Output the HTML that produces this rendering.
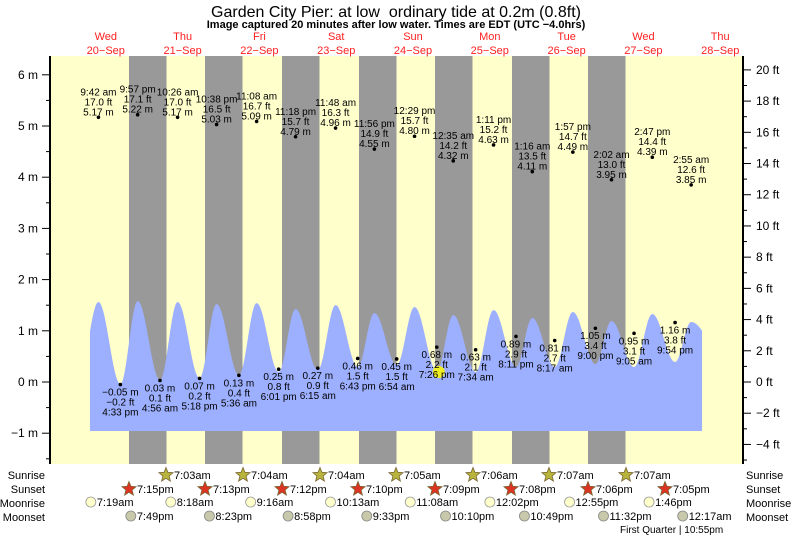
<!DOCTYPE html>
<html><head><meta charset="utf-8"><style>
html,body{margin:0;padding:0;background:#fff;}
svg{display:block;font-family:"Liberation Sans",Arial,sans-serif;}
</style></head><body>
<svg id="s" width="793" height="538" viewBox="0 0 793 538" xmlns="http://www.w3.org/2000/svg">
<rect x="0" y="0" width="793" height="538" fill="#fff"/>
<text x="396" y="17" font-size="16" text-anchor="middle" fill="#000">Garden City Pier: at low &#160;ordinary tide at 0.2m (0.8ft)</text>
<text x="396" y="28" font-size="11" font-weight="bold" text-anchor="middle" fill="#000">Image captured 20 minutes after low water. Times are EDT (UTC −4.0hrs)</text>
<g id="g"></g>
</svg>
<script>
var NS="http://www.w3.org/2000/svg",g=document.getElementById('g');
function el(n,a,t){var e=document.createElementNS(NS,n);for(var k in a)e.setAttribute(k,a[k]);if(t!=null)e.textContent=t;g.appendChild(e);return e;}
function X(t){return 67.4+3.2*t;}
function Y(m){return 382-51.2*m;}
el('rect',{x:50,y:56,width:693,height:408,fill:'#ffffcc'});
[129,205,282,359,435,512,588].forEach(function(x){el('rect',{x:x,y:56,width:37.5,height:408,fill:'#999999'});});
var days=[['Wed','20\u2212Sep'],['Thu','21\u2212Sep'],['Fri','22\u2212Sep'],['Sat','23\u2212Sep'],['Sun','24\u2212Sep'],['Mon','25\u2212Sep'],['Tue','26\u2212Sep'],['Wed','27\u2212Sep'],['Thu','28\u2212Sep']];
days.forEach(function(d,i){var x=105.8+76.8*i;el('text',{x:x,y:40,'font-size':11,fill:'#ff2020','text-anchor':'middle'},d[0]);el('text',{x:x,y:54,'font-size':11,fill:'#ff2020','text-anchor':'middle'},d[1]);});
var ext=[[3.5,378],[9.7,302],[16.55,384],[21.95,301],[28.93,380],[34.43,302],[41.3,378],[46.63,304],[53.6,375],[59.13,303],[66.02,372],[71.3,309],[78.25,370],[83.8,305],[90.72,367],[95.93,313],[102.9,365],[108.48,307],[115.43,371],[120.58,315],[127.57,372],[133.18,310],[140.18,367],[145.27,318],[152.28,367],[157.95,312],[165,364],[170.03,321],[177.08,367],[182.78,314],[189.9,362],[194.92,322],[207,370]];
function cy(t){for(var i=0;i<ext.length-1;i++){var a=ext[i],b=ext[i+1];if(t>=a[0]&&t<=b[0]){var f=(t-a[0])/(b[0]-a[0]);return a[1]+(b[1]-a[1])*(1-Math.cos(Math.PI*f))/2;}}return 350;}
var d='M90,431';for(var x=90;x<=702;x+=1){d+=' L'+x+','+cy((x-67.4)/3.2).toFixed(1);}d+=' L702,431 Z';
el('path',{d:d,fill:'#9dafff'});
el('line',{x1:50,y1:56,x2:50,y2:464,stroke:'#000','stroke-width':2});
el('line',{x1:743,y1:56,x2:743,y2:464,stroke:'#000','stroke-width':2});
for(var m=-1.5;m<=6.3;m+=0.5){var y=Y(m),maj=Math.abs(m-Math.round(m))<0.01;el('line',{x1:maj?42:46,y1:y,x2:50,y2:y,stroke:'#000'});
 if(maj){var r=Math.round(m);el('text',{x:38,y:y+4,'font-size':12,'text-anchor':'end',fill:'#000'},(r<0?'\u2212'+(-r):r)+' m');}}
for(var f=-5;f<=20;f++){var y=382-f*0.3048*51.2;if(y<56||y>464)continue;var maj=f%2==0;el('line',{x1:743,y1:y,x2:maj?751:747,y2:y,stroke:'#000'});
 if(maj)el('text',{x:756,y:y+4,'font-size':12,fill:'#000'},(f<0?'\u2212'+(-f):f)+' ft');}
var hi=[[9.7,'9:42 am','17.0',5.17],[21.95,'9:57 pm','17.1',5.22],[34.43,'10:26 am','17.0',5.17],[46.63,'10:38 pm','16.5',5.03],[59.13,'11:08 am','16.7',5.09],[71.3,'11:18 pm','15.7',4.79],[83.8,'11:48 am','16.3',4.96],[95.93,'11:56 pm','14.9',4.55],[108.48,'12:29 pm','15.7',4.80],[120.58,'12:35 am','14.2',4.32],[133.18,'1:11 pm','15.2',4.63],[145.27,'1:16 am','13.5',4.11],[157.95,'1:57 pm','14.7',4.49],[170.03,'2:02 am','13.0',3.95],[182.78,'2:47 pm','14.4',4.39],[194.92,'2:55 am','12.6',3.85]];
hi.forEach(function(h){var x=X(h[0]),y=Y(h[3]);el('circle',{cx:x,cy:y,r:1.8,fill:'#000'});
 el('text',{x:x,y:y-22,'font-size':10,'text-anchor':'middle',fill:'#000'},h[1]);
 el('text',{x:x,y:y-12,'font-size':10,'text-anchor':'middle',fill:'#000'},h[2]+' ft');
 el('text',{x:x,y:y-2,'font-size':10,'text-anchor':'middle',fill:'#000'},h[3].toFixed(2)+' m');});
var lo=[[16.55,'4:33 pm','\u22120.2',-0.05],[28.93,'4:56 am','0.1',0.03],[41.3,'5:18 pm','0.2',0.07],[53.6,'5:36 am','0.4',0.13],[66.02,'6:01 pm','0.8',0.25],[78.25,'6:15 am','0.9',0.27],[90.72,'6:43 pm','1.5',0.46],[102.9,'6:54 am','1.5',0.45],[115.43,'7:26 pm','2.2',0.68],[127.57,'7:34 am','2.1',0.63],[140.18,'8:11 pm','2.9',0.89],[152.28,'8:17 am','2.7',0.81],[165,'9:00 pm','3.4',1.05],[177.08,'9:05 am','3.1',0.95],[189.9,'9:54 pm','3.8',1.16]];
el('circle',{cx:X(115.43)+2,cy:372,r:6,fill:'#eeee22'});
lo.forEach(function(h){var x=X(h[0]),y=Y(h[3]);el('circle',{cx:x,cy:y,r:1.8,fill:'#000'});
 var mm=(h[3]<0?'\u2212'+(-h[3]).toFixed(2):h[3].toFixed(2))+' m';
 el('text',{x:x,y:y+11,'font-size':10,'text-anchor':'middle',fill:'#000'},mm);
 el('text',{x:x,y:y+21,'font-size':10,'text-anchor':'middle',fill:'#000'},h[2]+' ft');
 el('text',{x:x,y:y+31,'font-size':10,'text-anchor':'middle',fill:'#000'},h[1]);});
var rows=[['Sunrise',479],['Sunset',493],['Moonrise',507],['Moonset',521]];
rows.forEach(function(r){el('text',{x:45,y:r[1],'font-size':11,'text-anchor':'end',fill:'#000'},r[0]);el('text',{x:746,y:r[1],'font-size':11,fill:'#000'},r[0]);});
function star(cx,cy,fill){var p='';for(var i=0;i<10;i++){var a=-Math.PI/2+i*Math.PI/5,rr=i%2?3.3:7.5;p+=(cx+rr*Math.cos(a)).toFixed(1)+','+(cy+rr*Math.sin(a)).toFixed(1)+' ';}el('polygon',{points:p,fill:fill,stroke:'#776633','stroke-width':0.8});}
var sr=['7:03am','7:04am','7:04am','7:05am','7:06am','7:07am','7:07am'];
[166,243,320,396,473,549,626].forEach(function(x,i){star(x,475,'#b8b43c');el('text',{x:x+8,y:479,'font-size':11,fill:'#000'},sr[i]);});
var ss=['7:15pm','7:13pm','7:12pm','7:10pm','7:09pm','7:08pm','7:06pm','7:05pm'];
[129,205,282,358,435,511,588,665].forEach(function(x,i){star(x,489,'#dd3322');el('text',{x:x+8,y:493,'font-size':11,fill:'#000'},ss[i]);});
var mr=[[7.32,'7:19am'],[32.3,'8:18am'],[57.27,'9:16am'],[82.22,'10:13am'],[107.13,'11:08am'],[132.03,'12:02pm'],[156.92,'12:55pm'],[181.77,'1:46pm']];
mr.forEach(function(m){var x=X(m[0]);el('circle',{cx:x,cy:502,r:5,fill:'#ffffcc',stroke:'#999','stroke-width':0.8});el('text',{x:x+6,y:506,'font-size':11,fill:'#000'},m[1]);});
var ms=[[19.82,'7:49pm'],[44.38,'8:23pm'],[68.97,'8:58pm'],[93.55,'9:33pm'],[118.17,'10:10pm'],[142.82,'10:49pm'],[167.53,'11:32pm'],[192.28,'12:17am']];
ms.forEach(function(m){var x=X(m[0]);el('circle',{cx:x,cy:516,r:5,fill:'#c8c8aa',stroke:'#888','stroke-width':0.8});el('text',{x:x+6,y:520,'font-size':11,fill:'#000'},m[1]);});
el('text',{x:620,y:533,'font-size':10,fill:'#000'},'First Quarter | 10:55pm');
</script>
</body></html>
